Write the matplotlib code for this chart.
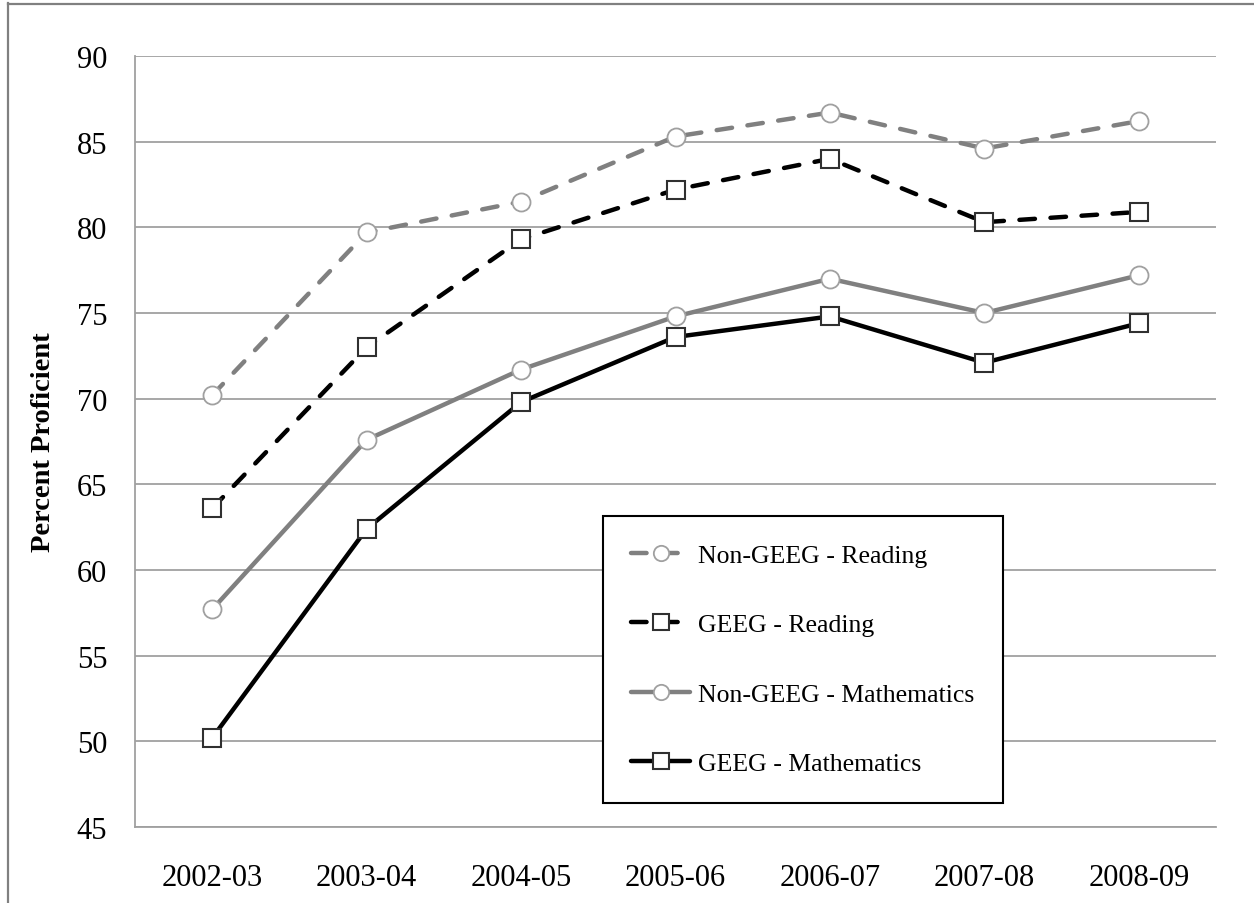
import matplotlib
matplotlib.use("Agg")
import matplotlib.pyplot as plt
from matplotlib.lines import Line2D

years = ["2002-03", "2003-04", "2004-05", "2005-06", "2006-07", "2007-08", "2008-09"]
non_geeg_reading = [70.2, 79.7, 81.5, 85.3, 86.7, 84.6, 86.2]
geeg_reading = [63.6, 73.0, 79.3, 82.2, 84.0, 80.3, 80.9]
non_geeg_math = [57.7, 67.6, 71.7, 74.8, 77.0, 75.0, 77.2]
geeg_math = [50.2, 62.4, 69.8, 73.6, 74.8, 72.1, 74.4]
series_labels = ["Non-GEEG - Reading", "GEEG - Reading", "Non-GEEG - Mathematics", "GEEG - Mathematics"]
y_ticks = [45, 50, 55, 60, 65, 70, 75, 80, 85, 90]

plt.rcParams['font.family'] = ['Liberation Serif', 'DejaVu Serif']

fig = plt.figure(figsize=(12.54, 9.04), dpi=100)
W, H = 1254, 904
ax = fig.add_axes([135 / W, 1 - 828 / H, (1216 - 135) / W, (828 - 57) / H])

x = list(range(len(years)))
gray = "#808080"
lw = 3.2
circle_kw = dict(marker='o', markersize=13, markerfacecolor='white',
                 markeredgecolor='#a0a0a0', markeredgewidth=1.3)
square_kw = dict(marker='s', markersize=13, markerfacecolor='white',
                 markeredgecolor='#303030', markeredgewidth=1.5)

ax.plot(x, non_geeg_reading, color=gray, lw=lw, linestyle=(0, (3.5, 3.5)),
        dash_capstyle='round', label=series_labels[0], zorder=3, **circle_kw)
ax.plot(x, geeg_reading, color='black', lw=lw, linestyle=(0, (3.5, 3.5)),
        dash_capstyle='round', label=series_labels[1], zorder=3, **square_kw)
ax.plot(x, non_geeg_math, color=gray, lw=lw, solid_capstyle='round',
        label=series_labels[2], zorder=3, **circle_kw)
ax.plot(x, geeg_math, color='black', lw=lw, solid_capstyle='round',
        label=series_labels[3], zorder=3, **square_kw)

ax.set_xlim(-0.5, len(years) - 0.5)
ax.set_ylim(45, 90)
ax.set_yticks(y_ticks)
ax.set_xticks(x)
ax.set_xticklabels(years)
ax.grid(axis='y', color='#a0a0a0', linewidth=1.3, zorder=0)
ax.set_axisbelow(True)
for s in ['top', 'right']:
    ax.spines[s].set_visible(False)
for s in ['left', 'bottom']:
    ax.spines[s].set_color('#a0a0a0')
    ax.spines[s].set_linewidth(1.3)
ax.tick_params(axis='both', length=0, labelsize=22)
ax.tick_params(axis='y', pad=20)
ax.tick_params(axis='x', pad=26)

ax.set_ylabel("Percent Proficient", fontsize=20.5, fontweight='bold')
ax.yaxis.set_label_coords(-0.073, 0.5)

leg = ax.legend(loc='lower left', bbox_to_anchor=(0.433, 0.031), fontsize=18.5,
                frameon=True, fancybox=False, edgecolor='black', framealpha=1,
                labelspacing=1.8, handlelength=2.3, handletextpad=0.3,
                borderpad=1.1, borderaxespad=0, markerscale=0.85)
leg.get_frame().set_linewidth(1.5)

# outer frame of the original picture (left and top edges)
fig.add_artist(Line2D([8 / W, 8 / W], [0, 1 - 4 / H], transform=fig.transFigure,
                      color='#808080', lw=1.6))
fig.add_artist(Line2D([8 / W, 1], [1 - 5 / H, 1 - 5 / H], transform=fig.transFigure,
                      color='#808080', lw=1.6))

fig.savefig("out.png", dpi=100)
